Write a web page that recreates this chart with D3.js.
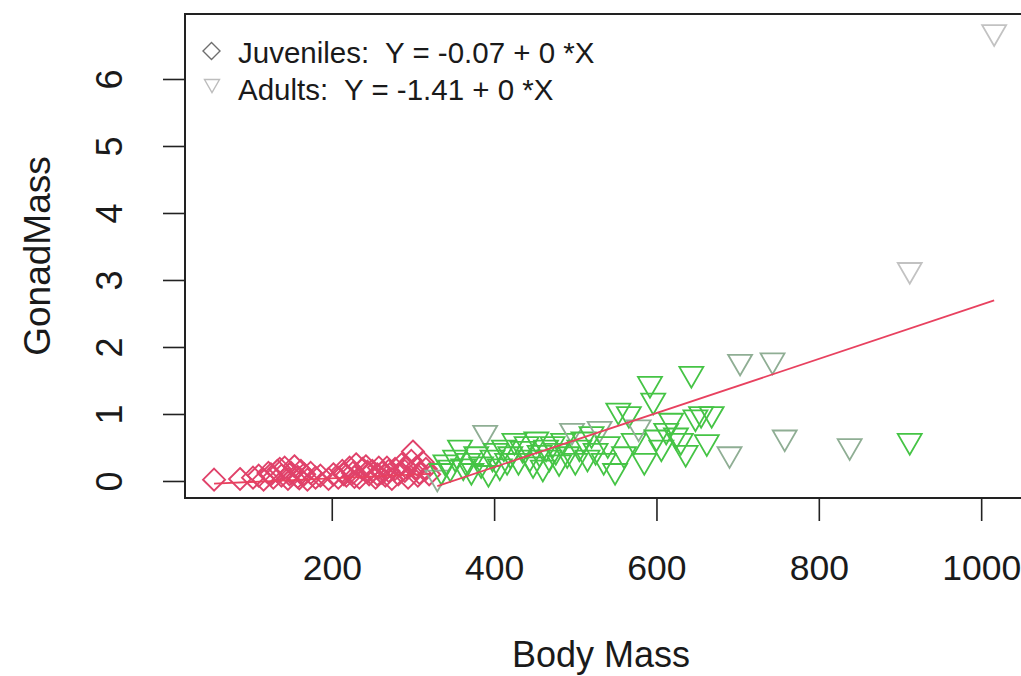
<!DOCTYPE html>
<html>
<head>
<meta charset="utf-8">
<script src="https://cdn.jsdelivr.net/npm/d3@7"></script>
<style>
  html, body { margin: 0; padding: 0; background: #fff; }
  svg { display: block; font-family: "Liberation Sans", Arial, sans-serif; }
</style>
</head>
<body>
<svg id="chart" width="1021" height="676"></svg>
<script>
// ---------------- data ----------------
const juvX = [55,87,103,110,116,122,128,133,138,142,146,150,154,158,162,166,170,174,180,186,
              196,202,208,213,218,222,226,230,234,238,242,246,250,254,258,262,266,270,274,278,
              282,286,290,294,298,300,304,308,312,316,320,
              125,136,148,160,215,228,244,256,268,292,306];
const juvY = [0.02,0.03,0.05,0.08,0.02,0.12,0.05,0.15,0.08,0.2,0.03,0.12,0.22,0.06,0.15,0.1,0.02,0.12,0.05,0.08,
              0.03,0.1,0.05,0.15,0.08,0.2,0.12,0.25,0.05,0.18,0.22,0.1,0.15,0.05,0.2,0.12,0.08,0.15,0.03,0.18,
              0.1,0.25,0.15,0.05,0.3,0.44,0.2,0.12,0.28,0.18,0.1,
              0.1,0.18,0.1,0.04,0.1,0.06,0.14,0.1,0.2,0.2,0.08];

const adultX = [330,335,340,346,352,358,362,368,372,378,384,389,393,398,402,407,412,416,420,425,
                430,435,440,444,448,452,456,460,464,468,472,476,480,485,490,496,500,505,510,515,
                520,525,530,535,540,549,553,560,566,572,578,585,592,596,600,606,612,618,624,630,
                636,643,648,655,662,668,690,703,743,758,838,912,912,1016];
const adultY = [0.05,0.15,0.28,0.2,0.35,0.5,0.22,0.3,0.15,0.4,0.25,0.72,0.12,0.35,0.45,0.22,0.5,0.3,0.4,0.6,
                0.3,0.48,0.55,0.35,0.25,0.62,0.42,0.2,0.5,0.35,0.55,0.45,0.28,0.6,0.4,0.75,0.3,0.5,0.62,0.35,
                0.7,0.45,0.78,0.3,0.55,0.15,1.05,0.4,1.0,0.6,0.8,0.3,1.45,1.2,0.65,0.5,0.75,0.9,0.68,0.6,
                0.42,1.6,0.95,1.0,0.58,1.0,0.4,1.78,1.8,0.65,0.52,0.6,3.15,6.7];
// 0 = plain, 1 = muted, 2 = faint
const adultTone = [1,0,0,0,0,0,0,0,0,0,0,1,0,0,0,0,0,0,0,0,
                   0,0,0,0,0,0,0,0,0,0,0,0,0,0,0,1,0,0,0,0,
                   0,0,1,0,0,0,0,0,0,0,1,0,0,0,0,0,0,0,0,0,
                   0,0,0,0,0,0,1,1,1,1,1,0,2,2];

const fitJuv = { intercept: -0.07, slope: 0.00055, from: 55, to: 320 };
const fitAdult = { intercept: -1.41, slope: 0.00404, from: 330, to: 1016 };

const xTicks = [200, 400, 600, 800, 1000];
const yTicks = [0, 1, 2, 3, 4, 5, 6];
const legendLabels = ["Juveniles:  Y = -0.07 + 0 *X", "Adults:  Y = -1.41 + 0 *X"];
const xTitle = "Body Mass";
const yTitle = "GonadMass";

// ---------------- layout ----------------
const svg = d3.select("#chart");
const L = 185, T = 14, B = 498, R = 1025;
const x = d3.scaleLinear().domain([19.2, 1054]).range([L, R]);
const y = d3.scaleLinear().domain([-0.254, 6.97]).range([B, T]);

const colJuv = "#e0426a";
const toneCol = ["#45c445", "#8fae94", "#c2c2c2"];
const fitCol = "#e8415f";

svg.append("defs").append("clipPath").attr("id", "clip")
  .append("rect").attr("x", L).attr("y", T).attr("width", R - L).attr("height", B - T);

const plot = svg.append("g").attr("clip-path", "url(#clip)");

// juvenile diamonds
const rD = 11;
plot.append("g").selectAll("path").data(juvX.map((v, i) => [v, juvY[i]])).join("path")
  .attr("d", d => { const cx = x(d[0]), cy = y(d[1]);
    return `M${cx},${cy - rD}L${cx + rD},${cy}L${cx},${cy + rD}L${cx - rD},${cy}Z`; })
  .attr("fill", "none").attr("stroke", colJuv).attr("stroke-width", 1.9);

// adult triangles (down)
const xc = 8.9, tr = 1.555 * xc, tyc = 0.778 * xc, txc = 1.347 * xc;
plot.append("g").selectAll("path").data(adultX.map((v, i) => [v, adultY[i], adultTone[i]])).join("path")
  .attr("d", d => { const cx = x(d[0]), cy = y(d[1]);
    return `M${cx - txc},${cy - tyc}L${cx + txc},${cy - tyc}L${cx},${cy + tr}Z`; })
  .attr("fill", "none").attr("stroke", d => toneCol[d[2]]).attr("stroke-width", 1.8);

// fit lines
[fitJuv, fitAdult].forEach(f => {
  plot.append("line")
    .attr("x1", x(f.from)).attr("y1", y(f.intercept + f.slope * f.from))
    .attr("x2", x(f.to)).attr("y2", y(f.intercept + f.slope * f.to))
    .attr("stroke", fitCol).attr("stroke-width", 1.8);
});

// box
svg.append("rect").attr("x", L).attr("y", T).attr("width", R - L).attr("height", B - T)
  .attr("fill", "none").attr("stroke", "#222").attr("stroke-width", 2);

// x axis
const gx = svg.append("g").attr("transform", `translate(0,${B})`)
  .call(d3.axisBottom(x).tickValues(xTicks).tickSize(23).tickFormat(d3.format("d")));
gx.select(".domain").remove();
gx.selectAll(".tick line").attr("stroke", "#222").attr("stroke-width", 1.6);
gx.selectAll(".tick text").attr("y", 82).attr("dy", 0)
  .attr("font-size", 35.5).attr("fill", "#1a1a1a").attr("font-family", "Liberation Sans, Arial, sans-serif");

// y axis
const gy = svg.append("g").attr("transform", `translate(${L},0)`)
  .call(d3.axisLeft(y).tickValues(yTicks).tickSize(22).tickFormat(d3.format("d")));
gy.select(".domain").remove();
gy.selectAll(".tick line").attr("stroke", "#222").attr("stroke-width", 1.6);
gy.selectAll(".tick text").attr("x", 0).attr("dy", 0).attr("text-anchor", "middle")
  .attr("transform", "translate(-63,0) rotate(-90)")
  .attr("font-size", 36).attr("fill", "#1a1a1a").attr("font-family", "Liberation Sans, Arial, sans-serif");

// titles
svg.append("text").attr("x", (L + R) / 2 - 4).attr("y", 667).attr("text-anchor", "middle")
  .attr("font-size", 36).attr("fill", "#1a1a1a").text(xTitle);
svg.append("text").attr("transform", `translate(50,${(T + B) / 2}) rotate(-90)`).attr("text-anchor", "middle")
  .attr("font-size", 37).attr("fill", "#1a1a1a").text(yTitle);

// legend
const lg = svg.append("g");
const lgY = [63, 100];
lg.append("path")
  .attr("d", `M211.5,42.5L220,51L211.5,59.5L203,51Z`)
  .attr("fill", "none").attr("stroke", "#6e6e6e").attr("stroke-width", 1.4);
lg.append("path")
  .attr("d", `M204.5,79.5L219.5,79.5L212,92.5Z`)
  .attr("fill", "none").attr("stroke", "#bdbdbd").attr("stroke-width", 1.4);
lg.selectAll("text.lab").data(legendLabels).join("text").attr("class", "lab")
  .attr("x", 238).attr("y", (d, i) => lgY[i])
  .attr("font-size", 29.5).attr("fill", "#1a1a1a").style("white-space", "pre").text(d => d);
</script>
</body>
</html>
